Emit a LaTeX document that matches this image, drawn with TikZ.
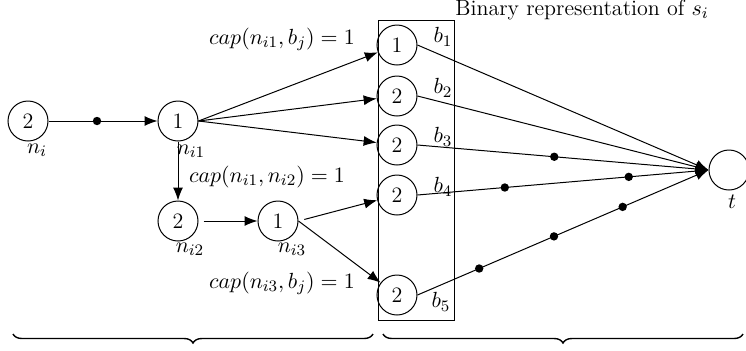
\documentclass[tikz,border=0pt]{standalone}
\usetikzlibrary{arrows.meta,decorations.pathreplacing}
\begin{document}
\begin{tikzpicture}[x=0.5pt,y=-0.5pt,
  font=\fontsize{11}{13}\selectfont,
  vtx/.style={circle,draw,minimum size=20pt,inner sep=0pt,line width=0.5pt},
  arr/.style={-{Latex[length=6.5pt,width=5pt]},line width=0.5pt},
  dotn/.style={circle,fill,inner sep=0pt,minimum size=4.2pt},
  lbl/.style={inner sep=0pt},
  brc/.style={decorate,decoration={brace,mirror,amplitude=4.5pt},line width=0.7pt}]
\useasboundingbox (0,0) rectangle (746,350);

% box
\node[draw,line width=0.5pt,minimum width=38pt,minimum height=150pt,inner sep=0pt] (box) at (416,170) {};

% vertices
\node[vtx] (ni)  at (28,121)  {2};
\node[vtx] (ni1) at (178,121) {1};
\node[vtx] (ni2) at (178,221) {2};
\node[vtx] (ni3) at (278,221) {1};
\node[vtx] (b1)  at (397,45)  {1};
\node[vtx] (b2)  at (397,96)  {2};
\node[vtx] (b3)  at (397,145) {2};
\node[vtx] (b4)  at (397,195) {2};
\node[vtx] (b5)  at (397,295) {2};
\node[vtx] (t)   at (729,170) {};

% vertex labels
\node[lbl] (lni)  at (37,150)  {$n_i$};
\node[lbl] (lni1) at (191,151) {$n_{i1}$};
\node[lbl] (lni2) at (190,249) {$n_{i2}$};
\node[lbl] (lni3) at (292,249) {$n_{i3}$};
\node[lbl] (lt)   at (732,202) {$t$};
\node[lbl] (lb1)  at (443,37)  {$b_1$};
\node[lbl] (lb2)  at (443,88)  {$b_2$};
\node[lbl] (lb3)  at (443,137) {$b_3$};
\node[lbl] (lb4)  at (443,187) {$b_4$};
\node[lbl] (lb5)  at (441,302) {$b_5$};

% text labels
\node[lbl] (c1) at (282,39)  {$cap(n_{i1},b_j) = 1$};
\node[lbl] (c2) at (267,177) {$cap(n_{i1},n_{i2}) = 1$};
\node[lbl] (c3) at (282,283) {$cap(n_{i3},b_j) = 1$};
\node[lbl] (title) at (582,10) {Binary representation of $s_i$};

% edges
\draw[arr] (ni) -- node[dotn,pos=0.445] (d0) {} (ni1);
\draw[arr] (ni1) -- (ni2);
\draw[arr,shorten <=2.5pt] (ni2) -- (ni3);
\draw[arr] (ni1.east) -- (b1);
\draw[arr] (ni1.east) -- (b2);
\draw[arr] (ni1.east) -- (b3);
\draw[arr,shorten <=3pt] (ni3.east) -- (b4);
\draw[arr] (ni3.east) -- (b5);

\draw[arr] (b1.east) -- (t.west);
\draw[arr] (b2.east) -- (t.west);
\draw[arr] (b3.east) -- node[dotn,pos=0.47] (d1) {} (t.west);
\draw[arr] (b4.east) -- node[dotn,pos=0.30] (d2) {} node[dotn,pos=0.726] (d3) {} (t.west);
\draw[arr] (b5.east) -- node[dotn,pos=0.212] (d4) {} node[dotn,pos=0.469] (d5) {} node[dotn,pos=0.705] (d6) {} (t.west);

% braces
\coordinate (bl1) at (13,334);
\coordinate (bl2) at (373,334);
\coordinate (br1) at (383,334);
\coordinate (br2) at (743,334);
\draw[brc] (bl1) -- (bl2);
\draw[brc] (br1) -- (br2);
\end{tikzpicture}
\end{document}
